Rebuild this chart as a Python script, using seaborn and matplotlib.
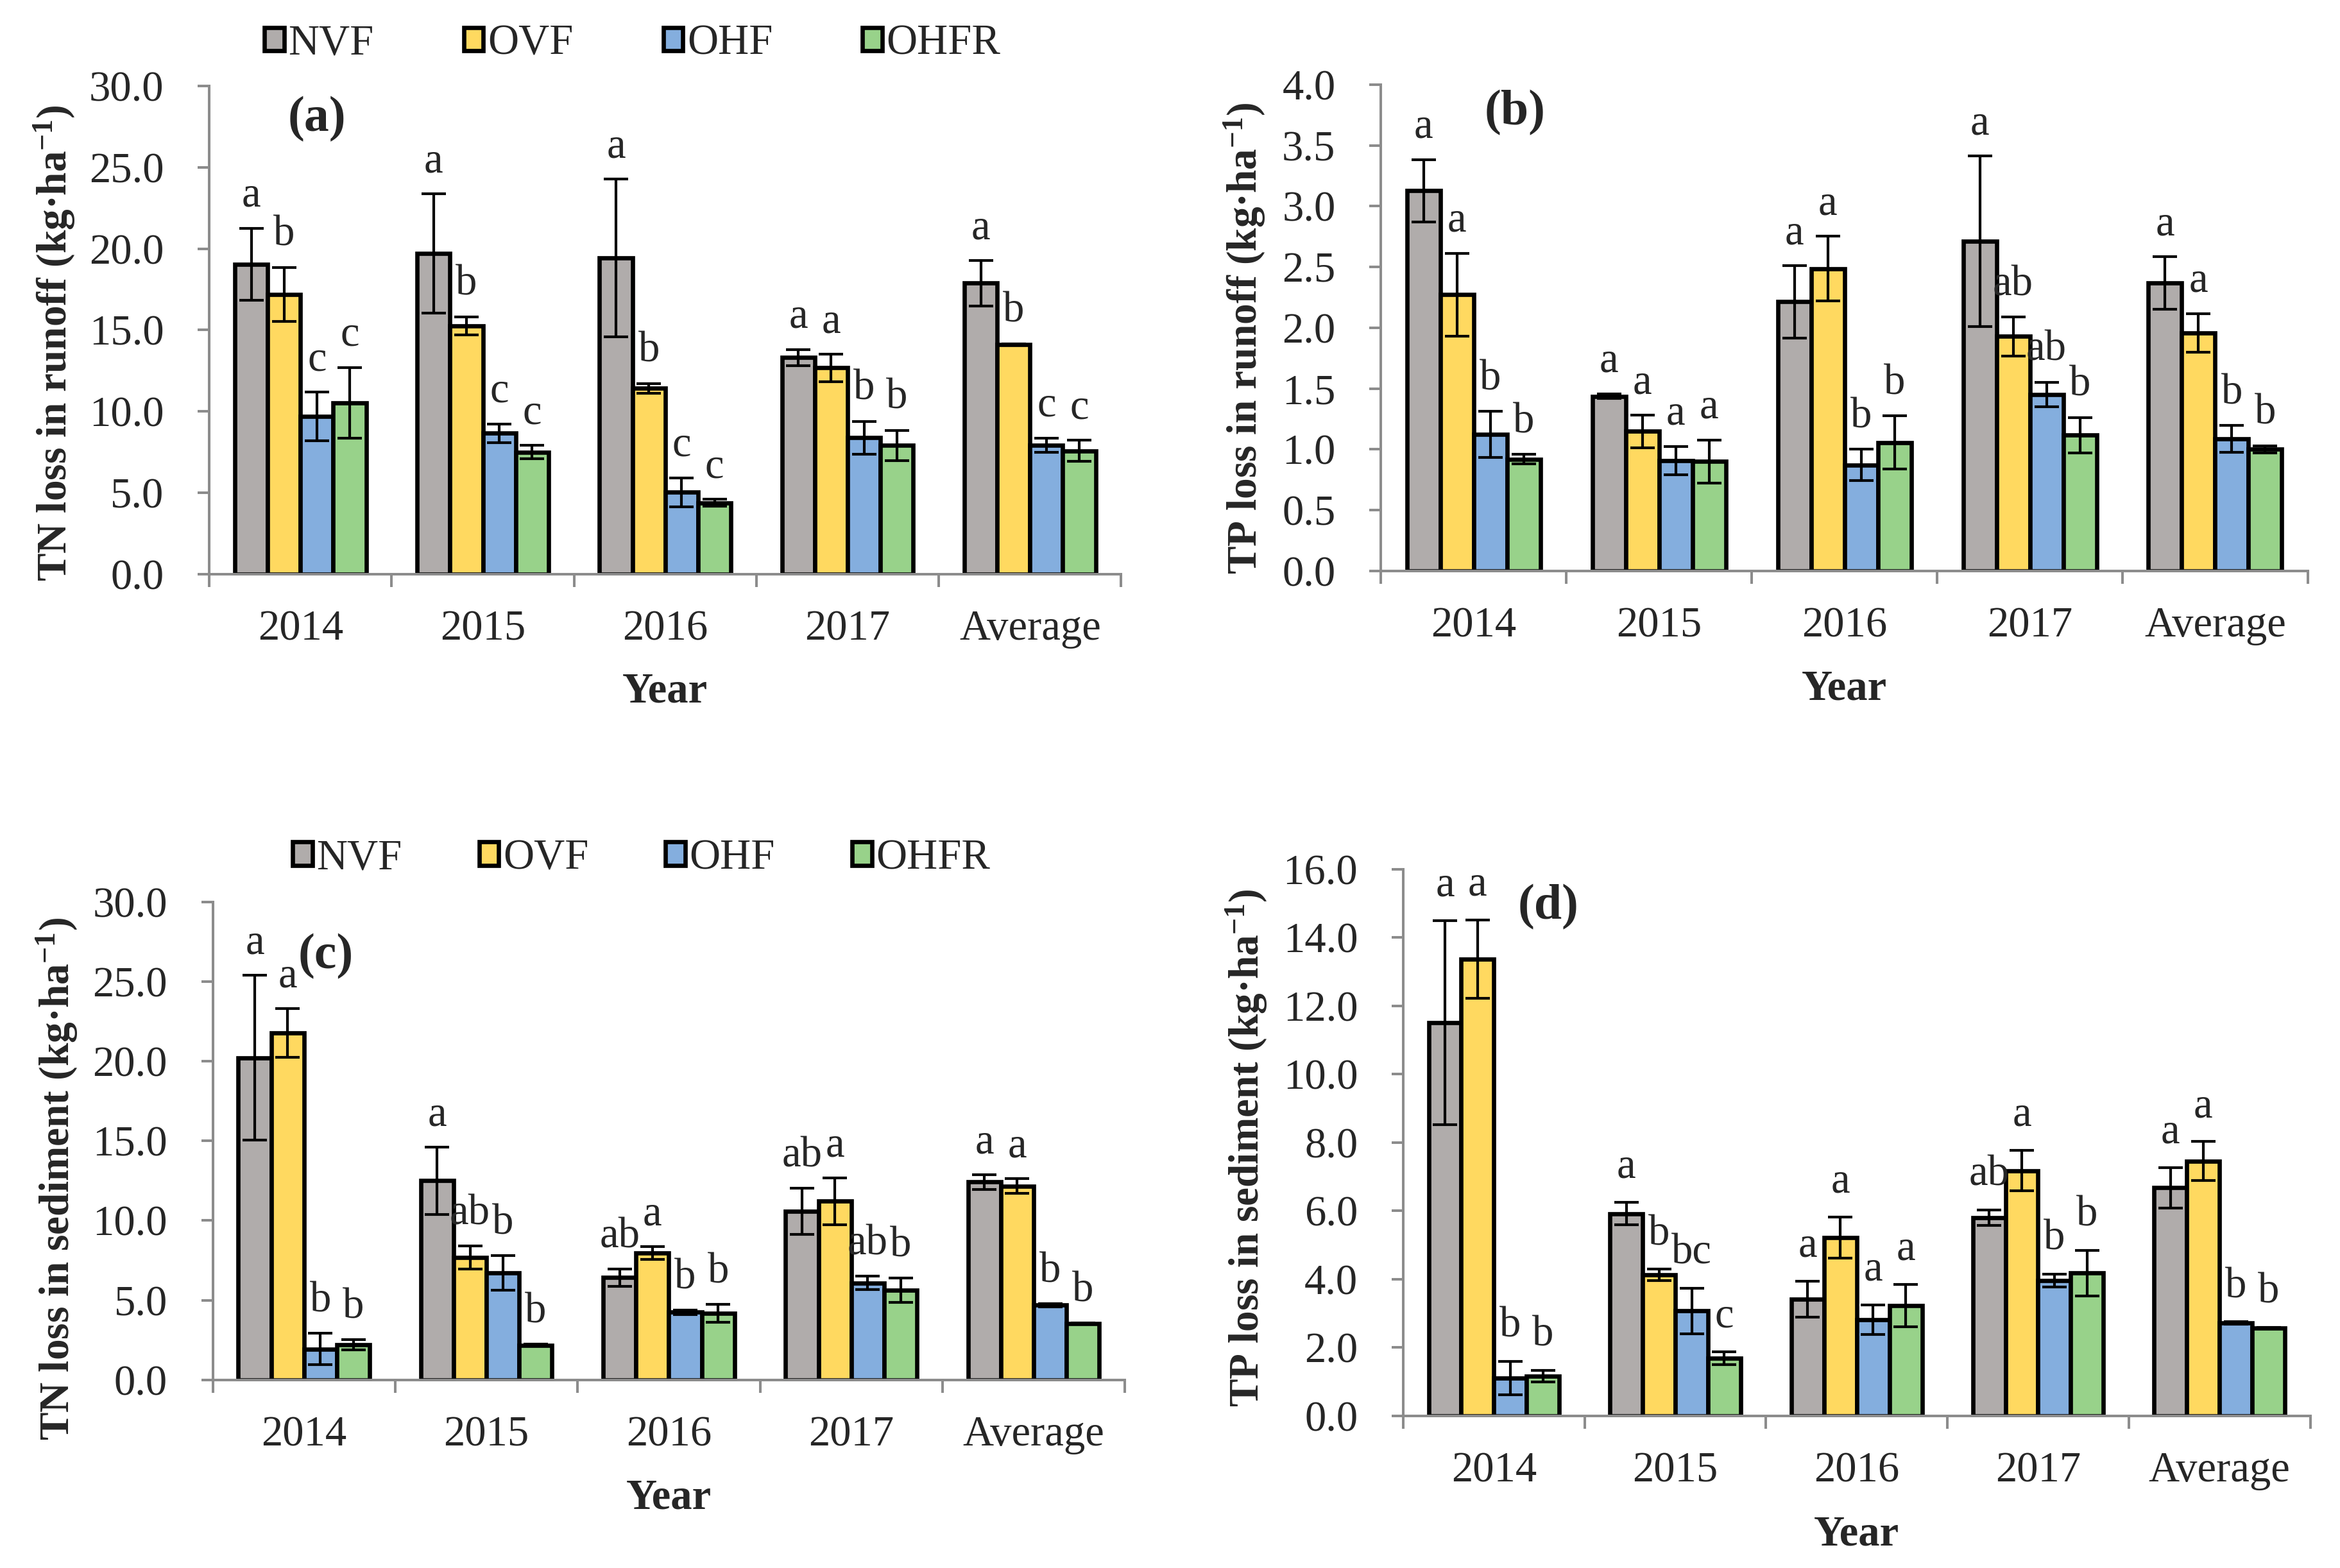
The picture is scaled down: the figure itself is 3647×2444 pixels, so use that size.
import numpy as np
import pandas as pd
import matplotlib
matplotlib.use('Agg')
import matplotlib.pyplot as plt
import seaborn as sns
from matplotlib.patches import Patch
from matplotlib.container import BarContainer
from matplotlib.ticker import FixedLocator, FormatStrFormatter, MultipleLocator

# ---------------- data ----------------
years = ['2014', '2015', '2016', '2017', 'Average']
treatments = ['NVF', 'OVF', 'OHF', 'OHFR']
colors = ['#B0ACAB', '#FFD960', '#84AEDE', '#98D28A']

# rows: NVF, OVF, OHF, OHFR ; columns: years
tn_runoff_mean = [[19.05, 19.71, 19.43, 13.31, 17.88],
                  [17.19, 15.25, 11.42, 12.67, 14.11],
                  [9.68, 8.65, 5.02, 8.37, 7.90],
                  [10.53, 7.49, 4.38, 7.90, 7.57]]
tn_runoff_err = [[2.20, 3.66, 4.85, 0.50, 1.39],
                 [1.66, 0.55, 0.30, 0.83, 0.05],
                 [1.50, 0.58, 0.88, 1.00, 0.44],
                 [2.17, 0.41, 0.20, 0.94, 0.64]]
tn_runoff_sig = [['a', 'a', 'a', 'a', 'a'],
                 ['b', 'b', 'b', 'a', 'b'],
                 ['c', 'c', 'c', 'b', 'c'],
                 ['c', 'c', 'c', 'b', 'c']]

tp_runoff_mean = [[3.127, 1.436, 2.213, 2.712, 2.368],
                  [2.272, 1.147, 2.487, 1.928, 1.957],
                  [1.121, 0.907, 0.870, 1.450, 1.084],
                  [0.918, 0.899, 1.055, 1.117, 0.999]]
tp_runoff_err = [[0.255, 0.020, 0.296, 0.700, 0.215],
                 [0.340, 0.133, 0.266, 0.160, 0.160],
                 [0.190, 0.115, 0.130, 0.100, 0.110],
                 [0.040, 0.178, 0.218, 0.145, 0.030]]
tp_runoff_sig = [['a', 'a', 'a', 'a', 'a'],
                 ['a', 'a', 'a', 'ab', 'a'],
                 ['b', 'a', 'b', 'ab', 'b'],
                 ['b', 'a', 'b', 'b', 'b']]

tn_sed_mean = [[20.23, 12.50, 6.42, 10.59, 12.43],
               [21.77, 7.68, 7.95, 11.21, 12.16],
               [1.93, 6.72, 4.24, 6.08, 4.70],
               [2.21, 2.18, 4.18, 5.62, 3.53]]
tn_sed_err = [[5.16, 2.12, 0.55, 1.44, 0.46],
              [1.53, 0.74, 0.40, 1.47, 0.46],
              [0.98, 1.10, 0.15, 0.43, 0.10],
              [0.31, 0.05, 0.58, 0.77, 0.03]]
tn_sed_sig = [['a', 'a', 'ab', 'ab', 'a'],
              ['a', 'ab', 'a', 'a', 'a'],
              ['b', 'b', 'b', 'ab', 'b'],
              ['b', 'b', 'b', 'b', 'b']]

tp_sed_mean = [[11.51, 5.92, 3.42, 5.80, 6.68],
               [13.37, 4.13, 5.22, 7.18, 7.46],
               [1.10, 3.07, 2.82, 3.96, 2.72],
               [1.17, 1.69, 3.23, 4.18, 2.57]]
tp_sed_err = [[2.99, 0.33, 0.53, 0.23, 0.59],
              [1.14, 0.16, 0.60, 0.59, 0.57],
              [0.49, 0.66, 0.43, 0.19, 0.03],
              [0.17, 0.19, 0.62, 0.67, 0.02]]
tp_sed_sig = [['a', 'a', 'a', 'ab', 'a'],
              ['a', 'b', 'a', 'a', 'a'],
              ['b', 'bc', 'a', 'b', 'b'],
              ['b', 'c', 'a', 'b', 'b']]

# ---------------- style ----------------
sns.set_theme(style='white')
plt.rcParams['font.family'] = ['Liberation Serif', 'DejaVu Serif']
plt.rcParams['mathtext.fontset'] = 'custom'
plt.rcParams['mathtext.rm'] = 'Liberation Serif'
plt.rcParams['mathtext.bf'] = 'Liberation Serif:bold'
plt.rcParams['mathtext.it'] = 'Liberation Serif:italic'

GREY = '#8C8C8C'
FS = 24

fig = plt.figure(figsize=(18.24, 12.22), dpi=200)


def long_df(mean):
    rows = []
    for ti, t in enumerate(treatments):
        for yi, y in enumerate(years):
            rows.append({'Year': y, 'Treatment': t, 'value': mean[ti][yi]})
    return pd.DataFrame(rows)


def panel(rect, mean, err, sig, ymax, ystep, ylabel, tag, tagxy,
          ylab_xy, xlab_y, legend_anchor=None, legend_colsp=2.0):
    ax = fig.add_axes(rect)
    df = long_df(mean)
    sns.barplot(data=df, x='Year', y='value', hue='Treatment',
                order=years, hue_order=treatments, palette=colors,
                width=0.72, edgecolor='black', linewidth=2.4,
                errorbar=None, legend=False, ax=ax, saturation=1)
    off = 0.045 * ymax
    bar_conts = [c for c in ax.containers if isinstance(c, BarContainer)]
    for ti, cont in enumerate(bar_conts):
        xs = [b.get_x() + b.get_width() / 2 for b in cont.patches]
        hs = [b.get_height() for b in cont.patches]
        ax.errorbar(xs, hs, yerr=err[ti], fmt='none', ecolor='black',
                    elinewidth=1.5, capsize=6.8, capthick=1.5, zorder=4)
        for x, h, e, s in zip(xs, hs, err[ti], sig[ti]):
            ax.text(x, h + e + off, s, ha='center', va='baseline',
                    fontsize=FS, zorder=5)

    ax.set_xlim(-0.5, len(years) - 0.5)
    ax.set_ylim(0, ymax)
    ax.yaxis.set_major_locator(MultipleLocator(ystep))
    ax.yaxis.set_major_formatter(FormatStrFormatter('%.1f'))
    ax.xaxis.set_minor_locator(FixedLocator(np.arange(-0.5, len(years), 1.0)))
    for s in ['top', 'right']:
        ax.spines[s].set_visible(False)
    for s in ['left', 'bottom']:
        ax.spines[s].set_color(GREY)
        ax.spines[s].set_linewidth(1.45)
    ax.tick_params(axis='x', which='major', length=0, pad=20, labelsize=FS)
    ax.tick_params(axis='x', which='minor', length=7.2, width=1.45,
                   color=GREY, direction='out', bottom=True)
    ax.tick_params(axis='y', which='major', length=6.5, width=1.45,
                   color=GREY, direction='out', pad=19, labelsize=FS, left=True)
    ax.set_ylabel(ylabel, fontsize=23.5, fontweight='bold')
    ax.yaxis.set_label_coords(*ylab_xy)
    ax.set_xlabel('Year', fontsize=FS, fontweight='bold')
    ax.xaxis.set_label_coords(0.5, xlab_y)
    ax.text(tagxy[0], tagxy[1], tag, transform=ax.transAxes, fontsize=28,
            fontweight='bold', ha='center', va='center')
    ax.grid(False)
    if legend_anchor is not None:
        handles = [Patch(facecolor=c, edgecolor='black', linewidth=2.4, label=t)
                   for c, t in zip(colors, treatments)]
        fig.legend(handles=handles, loc='center left',
                   bbox_to_anchor=legend_anchor, ncol=4, frameon=False,
                   fontsize=FS, handlelength=0.46, handleheight=0.46,
                   handletextpad=0.1, columnspacing=legend_colsp,
                   borderpad=0, borderaxespad=0)
    return ax


panel([0.0894, 0.634, 0.3896, 0.311], tn_runoff_mean, tn_runoff_err,
      tn_runoff_sig, 30, 5,
      r'TN loss in runoff (kg·ha$^{\mathbf{-1}}$)', '(a)', (0.118, 0.933),
      (-0.145, 0.473), -0.201, legend_anchor=(0.113, 0.972), legend_colsp=2.1)

panel([0.590, 0.636, 0.396, 0.310], tp_runoff_mean, tp_runoff_err,
      tp_runoff_sig, 4, 0.5,
      r'TP loss in runoff (kg·ha$^{\mathbf{-1}}$)', '(b)', (0.1445, 0.942),
      (-0.123, 0.478), -0.203)

panel([0.0909, 0.120, 0.3897, 0.3047], tn_sed_mean, tn_sed_err,
      tn_sed_sig, 30, 5,
      r'TN loss in sediment (kg·ha$^{\mathbf{-1}}$)', '(c)', (0.124, 0.887),
      (-0.146, 0.421), -0.207, legend_anchor=(0.125, 0.4526), legend_colsp=1.8)

panel([0.5995, 0.097, 0.3875, 0.3486], tp_sed_mean, tp_sed_err,
      tp_sed_sig, 16, 2,
      r'TP loss in sediment (kg·ha$^{\mathbf{-1}}$)', '(d)', (0.16, 0.931),
      (-0.148, 0.49), -0.1815)

fig.savefig('out.png', dpi=200)
